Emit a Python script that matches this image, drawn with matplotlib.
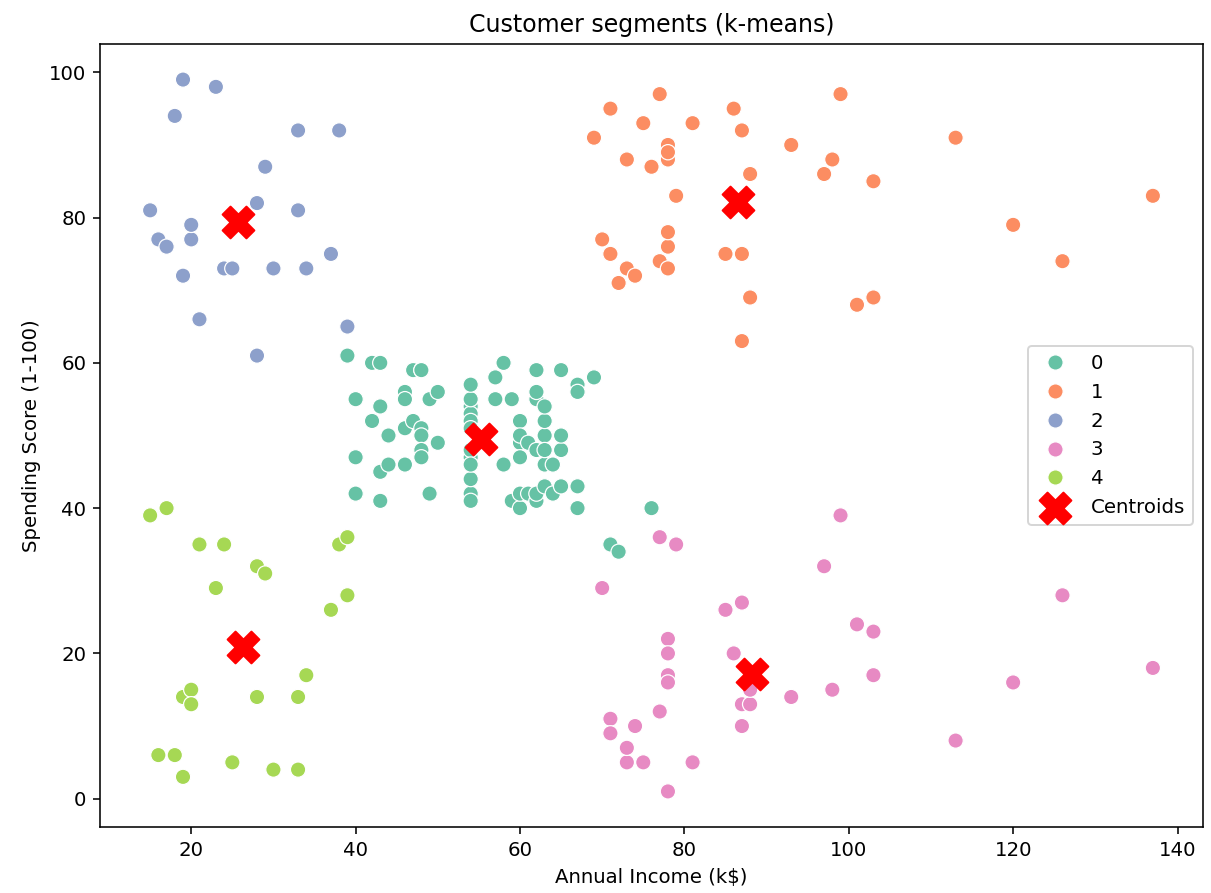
import numpy as np
import matplotlib
matplotlib.use('Agg')
import matplotlib.pyplot as plt
import seaborn as sns

# Mall customers: annual income (k$), spending score, k-means cluster
income = [15, 15, 16, 16, 17, 17, 18, 18, 19, 19, 19, 19, 20, 20, 20, 20, 21, 21, 23, 23,
          24, 24, 25, 25, 28, 28, 28, 28, 29, 29, 30, 30, 33, 33, 33, 33, 34, 34, 37, 37,
          38, 38, 39, 39, 39, 39, 40, 40, 40, 40, 42, 42, 43, 43, 43, 43, 44, 44, 46, 46,
          46, 46, 47, 47, 48, 48, 48, 48, 48, 48, 49, 49, 50, 50, 54, 54, 54, 54, 54, 54,
          54, 54, 54, 54, 54, 54, 57, 57, 58, 58, 59, 59, 60, 60, 60, 60, 60, 60, 61, 61,
          62, 62, 62, 62, 62, 62, 63, 63, 63, 63, 63, 63, 64, 64, 65, 65, 65, 65, 67, 67,
          67, 67, 69, 69, 70, 70, 71, 71, 71, 71, 71, 71, 72, 72, 73, 73, 73, 73, 74, 74,
          75, 75, 76, 76, 77, 77, 77, 77, 78, 78, 78, 78, 78, 78, 78, 78, 78, 78, 78, 78,
          79, 79, 81, 81, 85, 85, 86, 86, 87, 87, 87, 87, 87, 87, 88, 88, 88, 88, 93, 93,
          97, 97, 98, 98, 99, 99, 101, 101, 103, 103, 103, 103, 113, 113, 120, 120, 126, 126, 137, 137]
score = [39, 81, 6, 77, 40, 76, 6, 94, 3, 72, 14, 99, 15, 77, 13, 79, 35, 66, 29, 98,
         35, 73, 5, 73, 14, 82, 32, 61, 31, 87, 4, 73, 4, 92, 14, 81, 17, 73, 26, 75,
         35, 92, 36, 61, 28, 65, 55, 47, 42, 42, 52, 60, 54, 60, 45, 41, 50, 46, 51, 46,
         56, 55, 52, 59, 51, 59, 50, 48, 59, 47, 55, 42, 49, 56, 47, 54, 53, 48, 52, 42,
         51, 55, 41, 44, 57, 46, 58, 55, 60, 46, 55, 41, 49, 40, 42, 52, 47, 50, 42, 49,
         41, 48, 59, 55, 56, 42, 50, 46, 43, 48, 52, 54, 42, 46, 48, 50, 43, 59, 43, 57,
         56, 40, 58, 91, 29, 77, 35, 95, 11, 75, 9, 75, 34, 71, 5, 88, 7, 73, 10, 72,
         5, 93, 40, 87, 12, 97, 36, 74, 22, 90, 17, 88, 20, 76, 16, 89, 1, 78, 1, 73,
         35, 83, 5, 93, 26, 75, 20, 95, 27, 63, 13, 75, 10, 92, 13, 86, 15, 69, 14, 90,
         32, 86, 15, 88, 39, 97, 24, 68, 17, 85, 23, 69, 8, 91, 16, 79, 28, 74, 18, 83]
cluster = [4, 2, 4, 2, 4, 2, 4, 2, 4, 2, 4, 2, 4, 2, 4, 2, 4, 2, 4, 2,
           4, 2, 4, 2, 4, 2, 4, 2, 4, 2, 4, 2, 4, 2, 4, 2, 4, 2, 4, 2,
           4, 2, 4, 0, 4, 2, 0, 0, 0, 0, 0, 0, 0, 0, 0, 0, 0, 0, 0, 0,
           0, 0, 0, 0, 0, 0, 0, 0, 0, 0, 0, 0, 0, 0, 0, 0, 0, 0, 0, 0,
           0, 0, 0, 0, 0, 0, 0, 0, 0, 0, 0, 0, 0, 0, 0, 0, 0, 0, 0, 0,
           0, 0, 0, 0, 0, 0, 0, 0, 0, 0, 0, 0, 0, 0, 0, 0, 0, 0, 0, 0,
           0, 0, 0, 1, 3, 1, 0, 1, 3, 1, 3, 1, 0, 1, 3, 1, 3, 1, 3, 1,
           3, 1, 0, 1, 3, 1, 3, 1, 3, 1, 3, 1, 3, 1, 3, 1, 3, 1, 3, 1,
           3, 1, 3, 1, 3, 1, 3, 1, 3, 1, 3, 1, 3, 1, 3, 1, 3, 1, 3, 1,
           3, 1, 3, 1, 3, 1, 3, 1, 3, 1, 3, 1, 3, 1, 3, 1, 3, 1, 3, 1]

centroid_x = [55.30, 86.54, 25.73, 88.20, 26.30]
centroid_y = [49.52, 82.13, 79.36, 17.11, 20.91]

W, H, DPI = 1211, 893, 142
fig = plt.figure(figsize=(W / DPI, H / DPI), dpi=DPI)
ax = fig.add_axes([100 / W, 1 - 827 / H, 1103 / W, 783 / H])

sns.scatterplot(x=income, y=score, hue=cluster, palette='Set2', s=60, ax=ax)
ax.scatter(centroid_x, centroid_y, s=260, c='red', marker='X', label='Centroids')

ax.set_title('Customer segments (k-means)')
ax.set_xlabel('Annual Income (k$)')
ax.set_ylabel('Spending Score (1-100)')
ax.legend(loc='center right')

fig.savefig('out.png', dpi=DPI)
